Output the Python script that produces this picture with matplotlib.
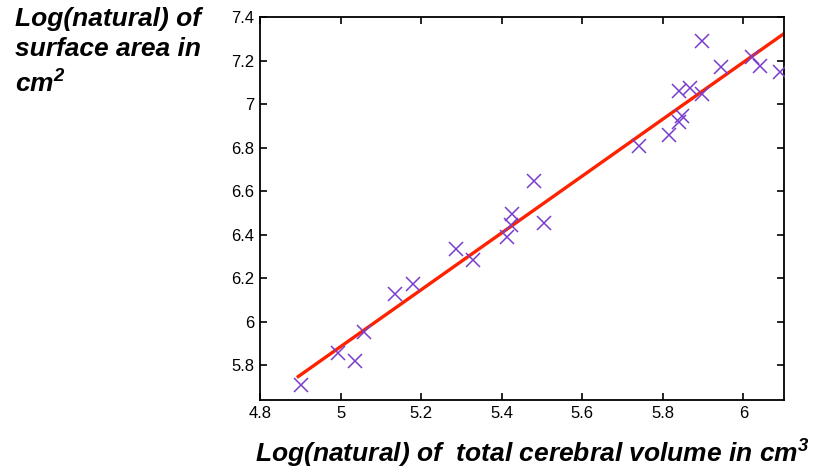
import matplotlib
matplotlib.use("Agg")
import matplotlib.pyplot as plt

plt.rcParams['font.family'] = ['Liberation Sans', 'DejaVu Sans']
plt.rcParams['mathtext.fontset'] = 'custom'
plt.rcParams['mathtext.bf'] = 'Liberation Sans:italic:bold'

# log(natural) of total cerebral volume (cm^3)
log_volume = [4.903, 4.994, 5.035, 5.058, 5.134, 5.179, 5.287, 5.330, 5.412,
              5.423, 5.426, 5.481, 5.506, 5.741, 5.815, 5.840, 5.848, 5.840,
              5.867, 5.896, 5.897, 5.944, 6.021, 6.040, 6.090]
# log(natural) of surface area (cm^2)
log_area = [5.709, 5.858, 5.821, 5.954, 6.126, 6.172, 6.333, 6.284, 6.391,
            6.445, 6.497, 6.647, 6.453, 6.808, 6.859, 6.919, 6.946, 7.061,
            7.076, 7.046, 7.291, 7.173, 7.216, 7.177, 7.150]

# fitted regression line end points
fit_x = [4.895, 6.1]
fit_y = [5.748, 7.324]

xticks = [4.8, 5.0, 5.2, 5.4, 5.6, 5.8, 6.0]
xtick_labels = ["4.8", "5", "5.2", "5.4", "5.6", "5.8", "6"]
yticks = [5.8, 6.0, 6.2, 6.4, 6.6, 6.8, 7.0, 7.2, 7.4]
ytick_labels = ["5.8", "6", "6.2", "6.4", "6.6", "6.8", "7", "7.2", "7.4"]

fig = plt.figure(figsize=(8.16, 4.71), dpi=100)
ax = fig.add_axes([0.3186, 0.1507, 0.6418, 0.8126])

ax.plot(fit_x, fit_y, color='#ff2200', linewidth=2.4, zorder=2)
ax.plot(log_volume, log_area, linestyle='none', marker='x', markersize=10,
        markeredgewidth=1.1, color='#7a3ccc', zorder=3)

ax.set_xlim(4.8, 6.1)
ax.set_ylim(5.64, 7.4)
ax.set_xticks(xticks)
ax.set_xticklabels(xtick_labels)
ax.set_yticks(yticks)
ax.set_yticklabels(ytick_labels)
ax.tick_params(direction='in', length=5, width=1.2, top=True, right=True,
               labelsize=12, pad=4)
for s in ax.spines.values():
    s.set_linewidth(1.3)

ax.set_xlabel(r"Log(natural) of  total cerebral volume in cm$^\mathbf{3}$",
              fontsize=19, fontweight='bold', fontstyle='italic')
ax.xaxis.set_label_coords(0.52, -0.093, transform=ax.transAxes)
ax.xaxis.label.set_va('top')
fig.text(0.018, 0.985, "Log(natural) of\nsurface area in\ncm$^\\mathbf{2}$",
         fontsize=19, fontweight='bold', fontstyle='italic',
         ha='left', va='top', linespacing=1.33)

fig.savefig("out.png", dpi=100)
